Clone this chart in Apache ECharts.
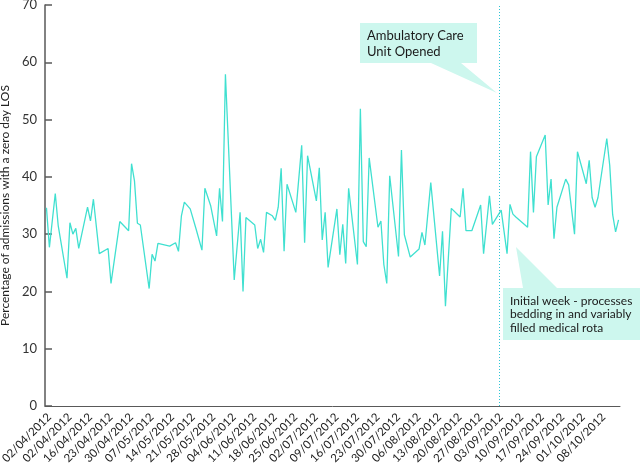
<!DOCTYPE html>
<html><head><meta charset="utf-8">
<script src="https://cdn.jsdelivr.net/npm/echarts@6/dist/echarts.min.js"></script>
<style>html,body{margin:0;padding:0;background:#fff}#c{width:640px;height:464px}</style>
</head><body><div id="c"></div>
<script>
// Tick labels (weekly), as shown in the original
const tickLabels = ['02/04/2012','02/04/2012','16/04/2012','23/04/2012','30/04/2012','07/05/2012','14/05/2012',
  '21/05/2012','28/05/2012','04/06/2012','11/06/2012','18/06/2012','25/06/2012','02/07/2012','09/07/2012',
  '16/07/2012','23/07/2012','30/07/2012','06/08/2012','13/08/2012','20/08/2012','27/08/2012','03/09/2012',
  '10/09/2012','17/09/2012','24/09/2012','01/10/2012','08/10/2012'];
// Days since 02/04/2012
const dayOffsets = [0,1,3,4,7,8,9,10,11,14,15,16,18,21,22,25,28,29,30,31,32,35,36,37,38,42,44,45,46,47,49,51,53,54,56,58,59,60,61,64,66,67,68,71,72,73,74,75,77,78,79,80,81,82,85,87,88,89,92,93,94,95,96,99,100,101,102,103,106,107,108,109,110,113,114,115,116,117,120,121,122,124,127,128,129,131,134,135,136,138,141,142,143,145,148,149,151,152,155,157,158,159,160,164,165,166,167,170,171,172,173,174,177,178,180,181,184,185,186,187,188,191,192,193,194,195];
// Percentage of admissions with a zero day LOS
const admissionPct = [34.6,27.7,37.1,31.5,22.3,32.0,30.0,31.0,27.5,34.7,32.3,36.1,26.6,27.5,21.4,32.2,30.6,42.3,39.3,31.9,31.6,20.5,26.5,25.3,28.4,27.9,28.5,27.0,33.2,35.6,34.4,30.9,27.2,38.0,34.9,29.7,38.0,32.2,57.9,22.0,33.8,20.0,32.9,31.6,27.5,29.1,26.8,33.8,33.2,32.4,34.7,41.5,27.0,38.7,33.8,45.5,28.5,43.7,35.8,41.6,29.0,33.8,24.2,34.4,26.4,31.7,24.9,38.0,24.7,51.9,28.7,27.8,43.3,31.2,32.3,24.7,21.4,40.2,26.1,44.7,29.9,26.0,27.4,30.3,28.1,39.0,22.7,30.5,17.4,34.5,33.0,38.0,30.6,30.6,35.1,26.6,36.7,31.7,34.2,26.6,35.2,33.5,33.0,31.2,44.4,33.8,43.5,47.3,35.1,39.6,29.2,34.7,39.6,38.6,30.0,44.4,38.8,42.9,36.4,34.7,36.4,46.7,42.0,33.4,30.4,32.5];
const openingDay = 155;
const yTicks = [0,10,20,30,40,50,60,70];

const FONT = 'Lato, "Open Sans", sans-serif';
const chart = echarts.init(document.getElementById('c'), null, {renderer: 'canvas'});
// each day occupies a slot; points sit in the middle of their day slot
const seriesData = dayOffsets.map((d, i) => [d + 0.5, admissionPct[i]]);

chart.setOption({
  animation: false,
  grid: {left: 45, right: 20, top: 5, bottom: 58, containLabel: false, outerBoundsMode: 'none'},
  xAxis: {
    type: 'value', min: 0, max: tickLabels.length * 7, interval: 7,
    axisLine: {show: true, lineStyle: {color: '#595959', width: 1}},
    axisTick: {show: false},
    splitLine: {show: false},
    axisLabel: {
      rotate: 45, fontSize: 11.5, color: '#222', fontFamily: FONT, margin: 5,
      verticalAlign: 'top',
      showMaxLabel: true, showMinLabel: true,
      formatter: v => { const i = Math.round(v / 7); return i < tickLabels.length ? tickLabels[i] : ''; }
    }
  },
  yAxis: {
    type: 'value', min: yTicks[0], max: yTicks[yTicks.length - 1], interval: 10,
    name: 'Percentage of admissions with a zero day LOS',
    nameLocation: 'middle', nameGap: 26,
    nameTextStyle: {fontSize: 12, color: '#222', fontFamily: FONT},
    axisLine: {show: true, lineStyle: {color: '#595959', width: 1.5}},
    axisTick: {show: true, inside: true, length: 7, lineStyle: {color: '#595959', width: 1.5}},
    splitLine: {show: false},
    axisLabel: {fontSize: 13, color: '#333', fontFamily: FONT, margin: 8}
  },
  series: [{
    type: 'line', data: seriesData, showSymbol: false, smooth: false,
    lineStyle: {color: '#40e0d0', width: 1.3},
    markLine: {
      silent: true, symbol: ['none', 'none'], label: {show: false},
      lineStyle: {color: '#2fc4d4', type: [1, 2], width: 1},
      data: [{xAxis: openingDay}]
    }
  }],
  graphic: [
    {type: 'polygon', shape: {points: [[360,23],[477,23],[477,63],[461,63],[497,93],[431,63],[360,63]]},
     style: {fill: '#cdf7ee'}, z: 10},
    {type: 'text', x: 367, y: 28, z: 11,
     style: {text: 'Ambulatory Care\nUnit Opened', font: '13px ' + FONT, fill: '#1a1a1a', lineHeight: 16}},
    {type: 'polygon', shape: {points: [[503,288],[523,288],[516,247],[557,288],[640,288],[640,340],[503,340]]},
     style: {fill: '#cdf7ee'}, z: 10},
    {type: 'text', x: 510, y: 294, z: 11,
     style: {text: 'Initial week - processes\nbedding in and variably\nfilled medical rota', font: '12px ' + FONT, fill: '#1a1a1a', lineHeight: 13.5}}
  ]
});
</script>
</body></html>
